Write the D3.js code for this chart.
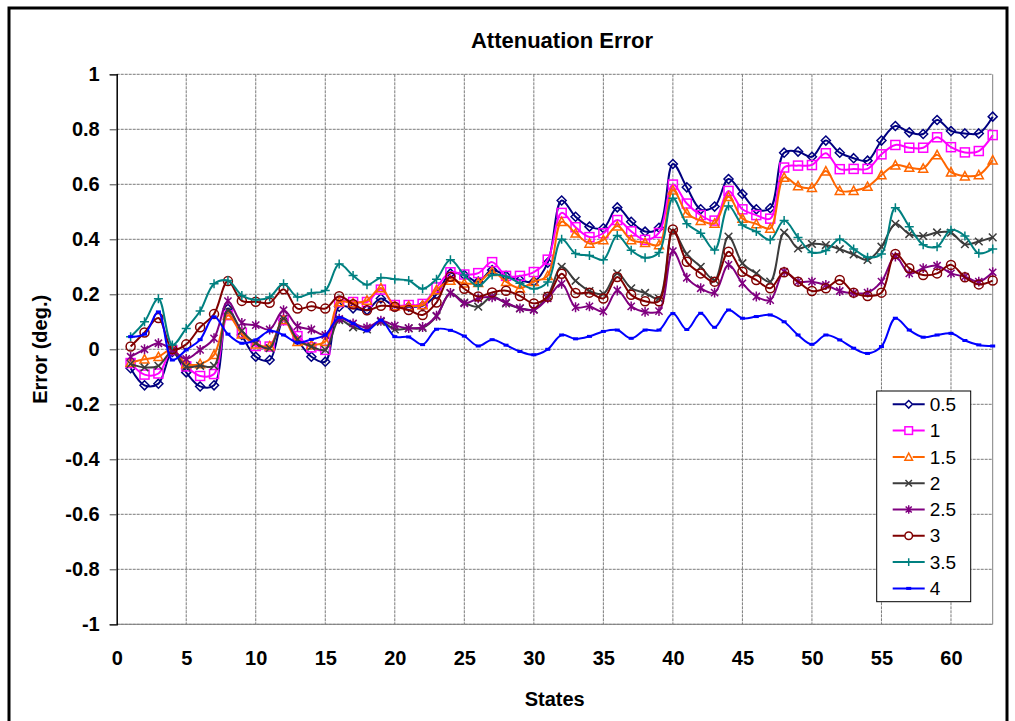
<!DOCTYPE html>
<html lang="en">
<head>
<meta charset="UTF-8">
<title>Attenuation Error</title>
<script src="https://d3js.org/d3.v7.min.js"></script>
<style>
    body { margin: 0; background: #fff; }
    svg text { font-family: "Liberation Sans", Arial, sans-serif; }
</style>
</head>
<body>
<div id="chart"></div>
<script>
    // states on the x axis
    const states = [1, 2, 3, 4, 5, 6, 7, 8, 9, 10, 11, 12, 13, 14, 15, 16, 17, 18, 19, 20,
        21, 22, 23, 24, 25, 26, 27, 28, 29, 30, 31, 32, 33, 34, 35, 36, 37, 38, 39, 40,
        41, 42, 43, 44, 45, 46, 47, 48, 49, 50, 51, 52, 53, 54, 55, 56, 57, 58, 59, 60,
        61, 62, 63];
    const xTicks = [0, 5, 10, 15, 20, 25, 30, 35, 40, 45, 50, 55, 60];
    const yTicks = [-1, -0.8, -0.6, -0.4, -0.2, 0, 0.2, 0.4, 0.6, 0.8, 1];
    const seriesNames = ["0.5", "1", "1.5", "2", "2.5", "3", "3.5", "4"];

    // error values (deg.) per state
    const err05 = [-0.069, -0.131, -0.125, -0.01, -0.084, -0.135, -0.131, 0.148, 0.052, -0.027,
        -0.039, 0.106, 0.034, -0.027, -0.045, 0.155, 0.149, 0.143, 0.185, 0.155,
        0.155, 0.158, 0.2, 0.276, 0.27, 0.246, 0.288, 0.267, 0.252, 0.246,
        0.315, 0.541, 0.482, 0.446, 0.44, 0.516, 0.464, 0.428, 0.442, 0.674,
        0.589, 0.509, 0.519, 0.619, 0.565, 0.509, 0.513, 0.715, 0.719, 0.7,
        0.759, 0.715, 0.695, 0.686, 0.759, 0.812, 0.789, 0.783, 0.834, 0.794,
        0.785, 0.785, 0.846];
    const err1 = [-0.05, -0.092, -0.088, -0.003, -0.062, -0.097, -0.09, 0.124, 0.06, 0.012,
        0.01, 0.106, 0.048, 0.007, -0.002, 0.172, 0.172, 0.172, 0.217, 0.161,
        0.161, 0.165, 0.225, 0.28, 0.272, 0.277, 0.317, 0.267, 0.267, 0.281,
        0.326, 0.496, 0.444, 0.408, 0.422, 0.47, 0.429, 0.398, 0.423, 0.599,
        0.53, 0.488, 0.468, 0.576, 0.509, 0.488, 0.475, 0.661, 0.668, 0.67,
        0.713, 0.655, 0.656, 0.656, 0.709, 0.743, 0.733, 0.733, 0.771, 0.735,
        0.716, 0.721, 0.779];
    const err15 = [-0.048, -0.036, -0.027, 0.0, -0.053, -0.053, -0.02, 0.124, 0.055, 0.019,
        0.012, 0.108, 0.028, 0.016, 0.028, 0.172, 0.169, 0.178, 0.223, 0.158,
        0.158, 0.161, 0.216, 0.25, 0.24, 0.242, 0.282, 0.246, 0.222, 0.246,
        0.268, 0.464, 0.422, 0.385, 0.398, 0.448, 0.398, 0.388, 0.38, 0.579,
        0.495, 0.468, 0.458, 0.555, 0.476, 0.456, 0.44, 0.625, 0.594, 0.588,
        0.648, 0.577, 0.577, 0.592, 0.634, 0.67, 0.661, 0.658, 0.707, 0.644,
        0.63, 0.634, 0.688];
    const err2 = [-0.053, -0.066, -0.06, -0.008, -0.063, -0.06, -0.06, 0.142, 0.067, 0.022,
        0.004, 0.112, 0.036, 0.01, -0.002, 0.106, 0.08, 0.072, 0.1, 0.072,
        0.076, 0.078, 0.12, 0.204, 0.17, 0.155, 0.192, 0.167, 0.149, 0.145,
        0.194, 0.3, 0.249, 0.212, 0.202, 0.276, 0.222, 0.205, 0.185, 0.428,
        0.346, 0.3, 0.252, 0.41, 0.313, 0.276, 0.246, 0.424, 0.367, 0.383,
        0.379, 0.364, 0.345, 0.325, 0.373, 0.456, 0.419, 0.412, 0.425, 0.424,
        0.382, 0.392, 0.407];
    const err25 = [-0.027, 0.0, 0.022, -0.002, -0.035, -0.002, 0.04, 0.175, 0.096, 0.088,
        0.072, 0.142, 0.084, 0.072, 0.052, 0.111, 0.094, 0.08, 0.104, 0.086,
        0.077, 0.081, 0.122, 0.205, 0.167, 0.185, 0.189, 0.17, 0.149, 0.143,
        0.185, 0.238, 0.153, 0.156, 0.138, 0.214, 0.156, 0.136, 0.139, 0.357,
        0.26, 0.222, 0.206, 0.307, 0.24, 0.192, 0.179, 0.282, 0.246, 0.246,
        0.234, 0.212, 0.204, 0.206, 0.246, 0.337, 0.276, 0.295, 0.304, 0.276,
        0.264, 0.246, 0.28];
    const err3 = [0.01, 0.061, 0.114, 0.0, 0.018, 0.08, 0.128, 0.248, 0.176, 0.173,
        0.169, 0.218, 0.148, 0.157, 0.148, 0.193, 0.164, 0.142, 0.158, 0.155,
        0.143, 0.125, 0.17, 0.264, 0.22, 0.192, 0.207, 0.213, 0.194, 0.167,
        0.191, 0.275, 0.205, 0.206, 0.185, 0.263, 0.198, 0.175, 0.175, 0.436,
        0.318, 0.276, 0.246, 0.355, 0.282, 0.252, 0.222, 0.28, 0.246, 0.212,
        0.222, 0.252, 0.206, 0.194, 0.206, 0.347, 0.295, 0.27, 0.276, 0.307,
        0.262, 0.236, 0.25];
    const err35 = [0.046, 0.1, 0.184, 0.016, 0.076, 0.139, 0.238, 0.25, 0.196, 0.18,
        0.19, 0.238, 0.19, 0.205, 0.214, 0.31, 0.268, 0.235, 0.26, 0.255,
        0.25, 0.22, 0.255, 0.326, 0.27, 0.23, 0.27, 0.265, 0.24, 0.22,
        0.245, 0.4, 0.348, 0.341, 0.326, 0.414, 0.36, 0.333, 0.352, 0.549,
        0.457, 0.422, 0.361, 0.521, 0.452, 0.428, 0.398, 0.468, 0.407, 0.352,
        0.359, 0.4, 0.365, 0.335, 0.347, 0.515, 0.446, 0.38, 0.373, 0.434,
        0.412, 0.349, 0.365];
    const err4 = [0.046, 0.055, 0.136, -0.039, -0.002, 0.035, 0.118, 0.055, 0.022, 0.034,
        0.067, 0.052, 0.024, 0.036, 0.052, 0.116, 0.094, 0.067, 0.106, 0.046,
        0.045, 0.017, 0.073, 0.069, 0.048, 0.012, 0.035, 0.015, -0.008, -0.02,
        0.0, 0.052, 0.038, 0.047, 0.065, 0.07, 0.04, 0.07, 0.07, 0.13,
        0.072, 0.131, 0.08, 0.143, 0.113, 0.119, 0.125, 0.1, 0.052, 0.018,
        0.052, 0.034, 0.004, -0.015, 0.01, 0.113, 0.07, 0.044, 0.052, 0.058,
        0.032, 0.016, 0.012];

    const seriesValues = [err05, err1, err15, err2, err25, err3, err35, err4];
    const colors = ["#000080", "#ff00ff", "#ff6600", "#3c3c3c", "#800080", "#800000", "#008080", "#0000ff"];
    const markers = ["diamond", "square", "triangle", "x", "asterisk", "circle", "plus", "dash"];

    const W = 1015, H = 721;
    const plot = { left: 116.7, right: 992.7, top: 74.3, bottom: 624.3 };

    const svg = d3.select("#chart").append("svg")
        .attr("width", W)
        .attr("height", H);

    svg.append("rect").attr("width", W).attr("height", H).attr("fill", "#fff");

    // outer chart frame
    svg.append("rect")
        .attr("x", 9).attr("y", 8)
        .attr("width", 998).attr("height", 730)
        .attr("fill", "none")
        .attr("stroke", "#000")
        .attr("stroke-width", 3);

    const x = d3.scaleLinear().domain([0, 63]).range([plot.left, plot.right]);
    const y = d3.scaleLinear().domain([-1, 1]).range([plot.bottom, plot.top]);

    // gridlines
    const grid = svg.append("g").attr("stroke", "#7a7a7a").attr("stroke-width", 1)
        .attr("stroke-dasharray", "3,1");
    grid.selectAll(".gx").data(xTicks.filter(t => t > 0)).join("line")
        .attr("x1", d => x(d)).attr("x2", d => x(d))
        .attr("y1", plot.top).attr("y2", plot.bottom);
    grid.selectAll(".gy").data(yTicks).join("line")
        .attr("x1", plot.left).attr("x2", plot.right)
        .attr("y1", d => y(d)).attr("y2", d => y(d));

    // plot border (right + bottom)
    svg.append("line").attr("x1", plot.right).attr("x2", plot.right)
        .attr("y1", plot.top).attr("y2", plot.bottom).attr("stroke", "#808080");
    svg.append("line").attr("x1", plot.left).attr("x2", plot.right)
        .attr("y1", plot.bottom).attr("y2", plot.bottom).attr("stroke", "#808080");

    // y axis (plain hyphen for negatives, like the original)
    const yAxis = svg.append("g")
        .attr("transform", `translate(${plot.left},0)`)
        .call(d3.axisLeft(y).tickValues(yTicks).tickSize(7).tickPadding(10)
            .tickFormat(d => String(+d.toFixed(1))));
    yAxis.select(".domain").attr("stroke", "#000").attr("stroke-width", 1.5);
    yAxis.selectAll(".tick line").attr("stroke", "#444");
    yAxis.selectAll("text")
        .attr("font-size", 20).attr("font-weight", "bold").attr("fill", "#000")
        .attr("font-family", "Liberation Sans, Arial, sans-serif");

    // x axis labels
    const xAxis = svg.append("g")
        .attr("transform", `translate(0,${plot.bottom})`)
        .call(d3.axisBottom(x).tickValues(xTicks).tickSize(0).tickPadding(27));
    xAxis.select(".domain").remove();
    xAxis.selectAll("text")
        .attr("font-size", 20).attr("font-weight", "bold").attr("fill", "#000")
        .attr("font-family", "Liberation Sans, Arial, sans-serif");

    // titles
    svg.append("text").attr("x", 562).attr("y", 48)
        .attr("text-anchor", "middle").attr("font-size", 22).attr("font-weight", "bold")
        .text("Attenuation Error");
    svg.append("text").attr("x", (plot.left + plot.right) / 2).attr("y", 706)
        .attr("text-anchor", "middle").attr("font-size", 20).attr("font-weight", "bold")
        .text("States");
    svg.append("text")
        .attr("transform", `translate(47,${(plot.top + plot.bottom) / 2}) rotate(-90)`)
        .attr("text-anchor", "middle").attr("font-size", 20).attr("font-weight", "bold")
        .text("Error (deg.)");

    // marker shapes
    function drawMarker(g, type, color, r) {
        if (type === "circle") {
            g.append("circle").attr("r", r).attr("fill", "none").attr("stroke", color).attr("stroke-width", 1.5);
        } else if (type === "square") {
            g.append("rect").attr("x", -r).attr("y", -r).attr("width", 2 * r).attr("height", 2 * r)
                .attr("fill", "none").attr("stroke", color).attr("stroke-width", 1.5);
        } else if (type === "dash") {
            g.append("rect").attr("x", -2.5).attr("y", -1.5).attr("width", 5).attr("height", 3)
                .attr("fill", color);
        } else {
            let p;
            const s = r;
            if (type === "diamond") p = `M0,${-s}L${s},0L0,${s}L${-s},0Z`;
            if (type === "triangle") p = `M0,${-s}L${s},${s * 0.85}L${-s},${s * 0.85}Z`;
            if (type === "x") p = `M${-s * 0.85},${-s * 0.85}L${s * 0.85},${s * 0.85}M${-s * 0.85},${s * 0.85}L${s * 0.85},${-s * 0.85}`;
            if (type === "asterisk") p = `M${-s * 0.8},${-s * 0.8}L${s * 0.8},${s * 0.8}M${-s * 0.8},${s * 0.8}L${s * 0.8},${-s * 0.8}M0,${-s * 1.1}L0,${s * 1.1}`;
            if (type === "plus") p = `M${-s},0L${s},0M0,${-s}L0,${s}`;
            g.append("path").attr("d", p).attr("fill", "none").attr("stroke", color).attr("stroke-width", 1.5);
        }
    }

    const line = d3.line()
        .x((d, i) => x(states[i]))
        .y(d => y(d))
        .curve(d3.curveCatmullRom.alpha(0.5));

    seriesValues.forEach((vals, k) => {
        const g = svg.append("g");
        g.append("path").datum(vals)
            .attr("fill", "none")
            .attr("stroke", colors[k])
            .attr("stroke-width", 2)
            .attr("d", line);
        g.selectAll("g.m").data(vals).join("g")
            .attr("transform", (d, i) => `translate(${x(states[i])},${y(d)})`)
            .each(function () { drawMarker(d3.select(this), markers[k], colors[k], 4.5); });
    });

    // legend
    const lg = svg.append("g").attr("transform", "translate(876.7,391)");
    lg.append("rect").attr("width", 94).attr("height", 210.7)
        .attr("fill", "#fff").attr("stroke", "#000").attr("stroke-width", 1);
    seriesNames.forEach((name, k) => {
        const row = lg.append("g").attr("transform", `translate(0,${13.3 + k * 26.3})`);
        row.append("line").attr("x1", 16).attr("x2", 48)
            .attr("stroke", colors[k]).attr("stroke-width", 2);
        const m = row.append("g").attr("transform", "translate(32,0)");
        if (markers[k] !== "dash") {
            m.append("rect").attr("x", -4).attr("y", -4).attr("width", 8).attr("height", 8)
                .attr("fill", markers[k] === "x" || markers[k] === "plus" || markers[k] === "asterisk" ? "none" : "#fff");
        }
        drawMarker(m, markers[k], colors[k], 3.8);
        row.append("text").attr("x", 53).attr("y", 0).attr("dy", "0.35em")
            .attr("font-size", 19).text(name);
    });
</script>
</body>
</html>
